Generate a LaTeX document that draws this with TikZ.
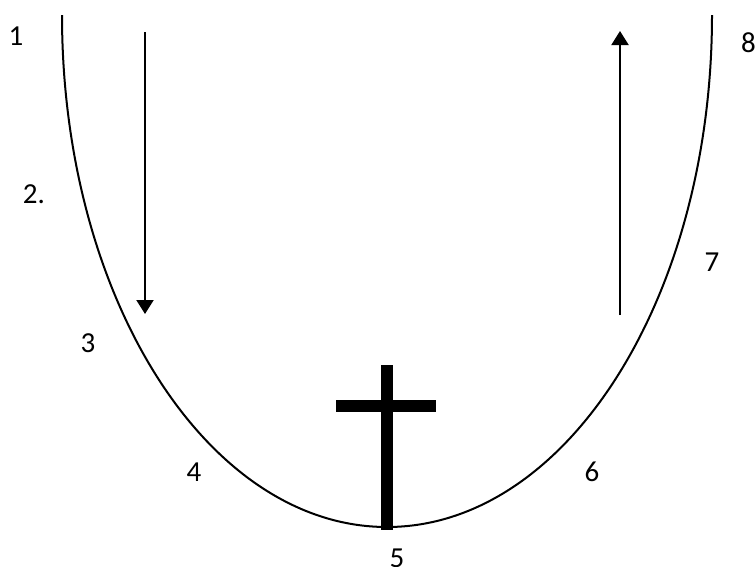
\documentclass[tikz,border=0pt]{standalone}
\usepackage{fontspec}
\setmainfont{Carlito}
\usetikzlibrary{arrows.meta}
\begin{document}
\begin{tikzpicture}[x=1pt,y=1pt,
  lbl/.style={font=\fontsize{29}{32}\selectfont, inner sep=0pt},
  flow/.style={line width=2pt, -{Triangle[width=17pt,length=14pt]}},
  bar/.style={fill=black, draw=none}]
\useasboundingbox (0,0) rectangle (755,-566);
% U curve (half ellipse)
\draw[line width=2pt] (62,-15) arc[start angle=180, end angle=360, x radius=325, y radius=512];
% arrows
\coordinate (d1) at (145,-32);
\coordinate (d2) at (145,-314);
\coordinate (u1) at (620,-315);
\coordinate (u2) at (620,-31);
\draw[flow] (d1) -- (d2);
\draw[flow] (u1) -- (u2);
% cross
\fill[bar] (381,-365) rectangle (393,-530);
\fill[bar] (336,-400) rectangle (436,-412);
% labels
\node[lbl] (l1) at (16,-36) {1};
\node[lbl] (l2) at (34,-194) {2.};
\node[lbl] (l3) at (88,-343) {3};
\node[lbl] (l4) at (194,-472) {4};
\node[lbl] (l5) at (397,-558) {5};
\node[lbl] (l6) at (592,-472) {6};
\node[lbl] (l7) at (712,-262) {7};
\node[lbl, anchor=west] (l8) at (741,-43) {8};
\end{tikzpicture}
\end{document}
